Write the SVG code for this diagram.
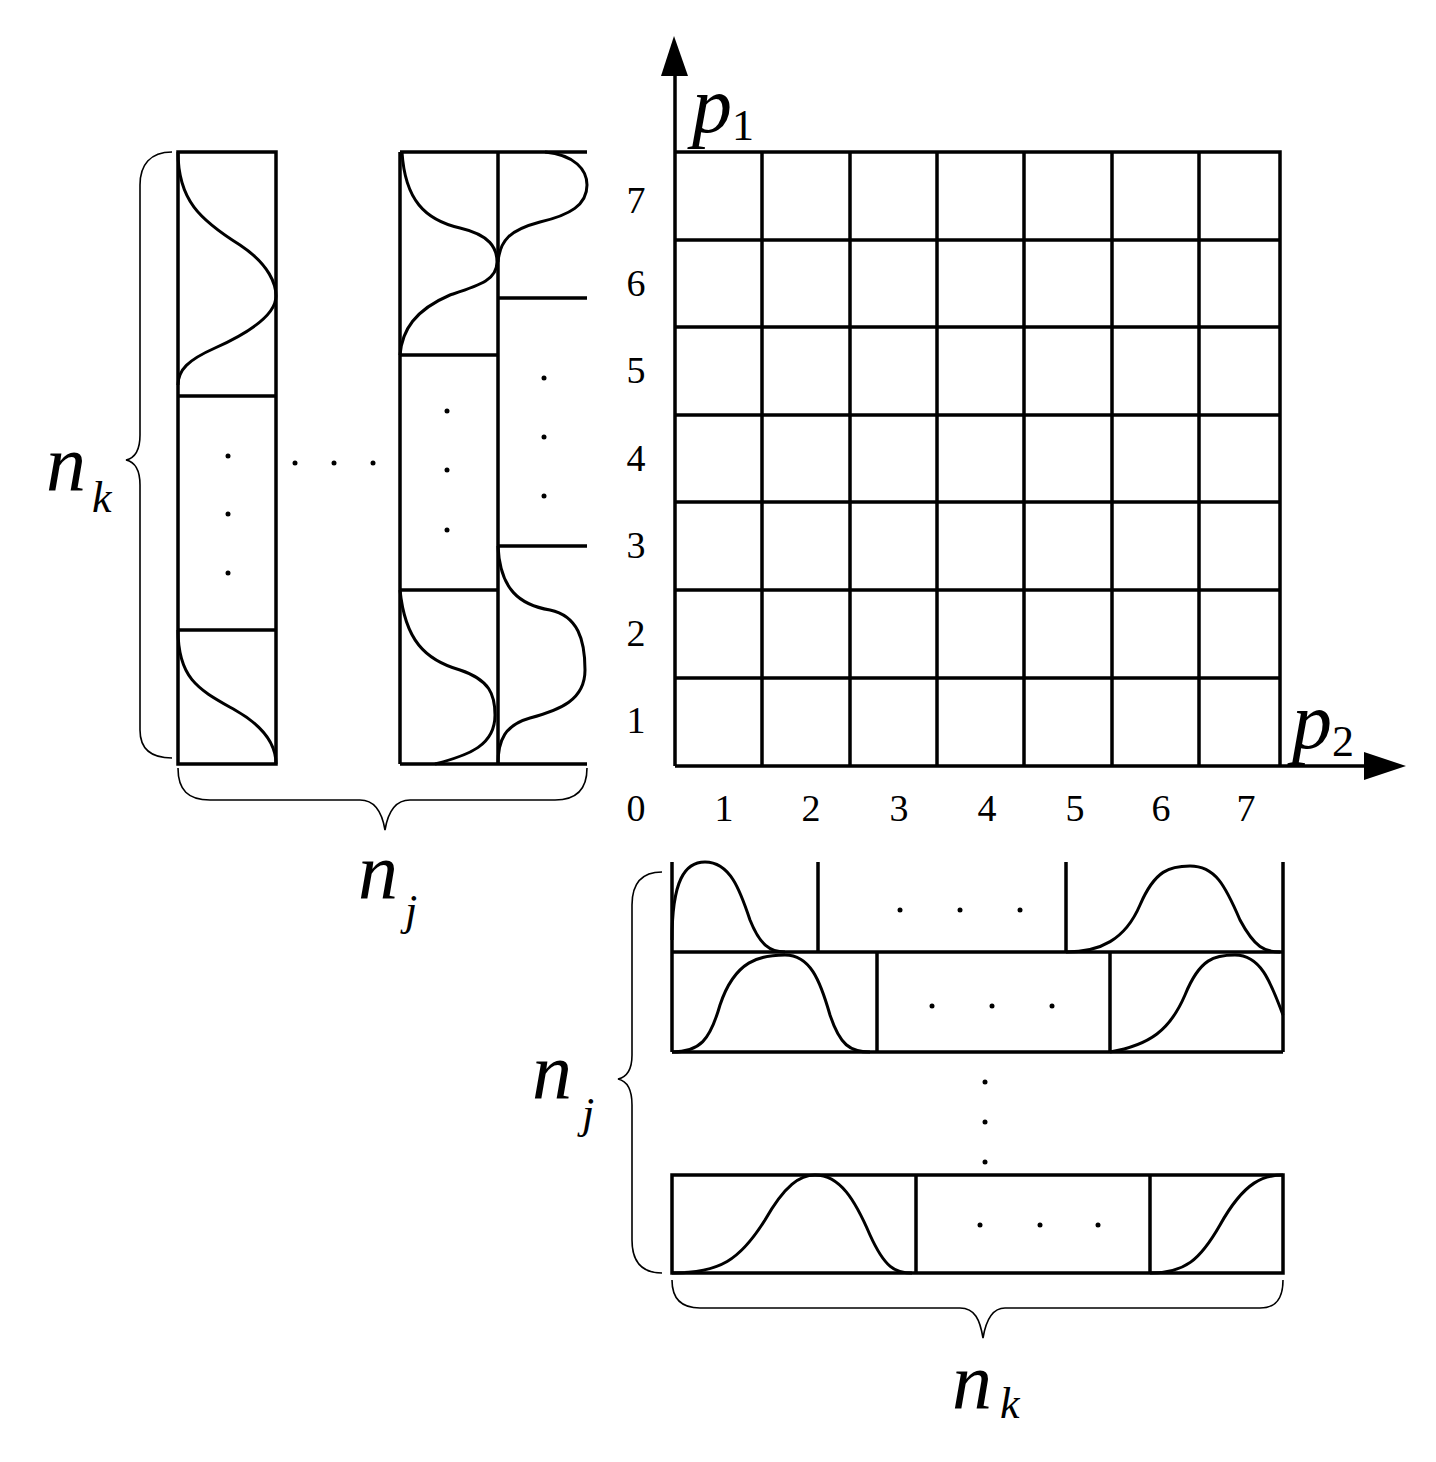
<svg xmlns="http://www.w3.org/2000/svg" width="1436" height="1462" viewBox="0 0 1436 1462">
<style>
.l{stroke:#000;stroke-width:3.5;fill:none}
.c{stroke:#000;stroke-width:3;fill:none}
.b{stroke:#000;stroke-width:1.6;fill:none}
.d{fill:#000}
.n{font-family:"Liberation Serif",serif;font-size:38px}
.v{font-family:"Liberation Serif",serif;font-style:italic;font-size:80px}
.s{font-family:"Liberation Serif",serif;font-style:italic;font-size:44px}
.s2{font-family:"Liberation Serif",serif;font-size:44px}
</style>
<rect width="1436" height="1462" fill="#fff"/>
<g id="col1">
<rect class="l" x="178" y="152" width="98" height="612"/>
<path class="l" d="M178,396H276M178,630H276"/>
<path class="c" d="M178,152C178,200 200,220 240,245C270,265 276,285 276,296C276,312 255,330 215,348C188,360 178,370 178,385"/>
<path class="c" d="M178,630C178,680 200,690 235,710C265,727 276,745 276,764"/>
<circle class="d" cx="228" cy="456" r="2.5"/><circle class="d" cx="228" cy="514" r="2.5"/><circle class="d" cx="228" cy="573" r="2.5"/>
</g>
<g id="hdots"><circle class="d" cx="295" cy="463" r="2.5"/><circle class="d" cx="334" cy="463" r="2.5"/><circle class="d" cx="373" cy="463" r="2.5"/></g>
<g id="col2">
<path class="l" d="M400,152H587M400,764H587M400,152V764M498,152V764M400,355H498M400,590H498M498,298H587M498,546H587"/>
<path class="c" d="M402,152C405,200 425,220 460,228C490,235 497,248 497,262C497,280 480,285 450,295C415,310 402,330 400,355"/>
<path class="c" d="M400,590C405,640 425,660 460,670C490,680 495,695 495,715C495,745 470,755 435,764"/>
<path class="c" d="M545,152C575,155 587,170 587,185C587,205 570,215 540,222C510,230 500,240 498,262"/>
<path class="c" d="M498,546C500,590 520,605 550,610C578,616 585,640 585,670C585,700 560,710 530,718C505,725 498,740 498,764"/>
<circle class="d" cx="447" cy="411" r="2.5"/><circle class="d" cx="447" cy="470" r="2.5"/><circle class="d" cx="447" cy="530" r="2.5"/>
<circle class="d" cx="544" cy="378" r="2.5"/><circle class="d" cx="544" cy="437" r="2.5"/><circle class="d" cx="544" cy="496" r="2.5"/>
</g>
<g id="grid">
<path class="l" d="M675,152H1280V766M762,152V766M850,152V766M937,152V766M1024,152V766M1112,152V766M1199,152V766M675,240H1280M675,327H1280M675,415H1280M675,502H1280M675,590H1280M675,678H1280"/>
</g>
<g id="axes">
<path class="l" d="M675,766V70M675,766H1370"/>
<path class="d" d="M674,36L661,76H688Z"/>
<path class="d" d="M1406,766L1364,752V780Z"/>
<text class="v" x="692" y="132">p</text><text class="s2" x="732" y="140">1</text>
<text class="v" x="1292" y="748">p</text><text class="s2" x="1332" y="756">2</text>
</g>
<g id="ticks" class="n" text-anchor="middle">
<text x="636" y="213">7</text><text x="636" y="296">6</text><text x="636" y="383">5</text><text x="636" y="471">4</text><text x="636" y="558">3</text><text x="636" y="646">2</text><text x="636" y="733">1</text><text x="636" y="821">0</text>
<text x="724" y="821">1</text><text x="811" y="821">2</text><text x="899" y="821">3</text><text x="987" y="821">4</text><text x="1075" y="821">5</text><text x="1161" y="821">6</text><text x="1246" y="821">7</text>
</g>
<g id="bottom">
<path class="l" d="M672,862V1052M818,862V952M1066,862V952M1283,862V1052M672,952H1283M672,1052H1283M877,952V1052M1110,952V1052"/>
<rect class="l" x="672" y="1175" width="611" height="98"/>
<path class="l" d="M916,1175V1273M1150,1175V1273"/>
<path class="c" d="M672,940C672,880 685,862 705,862C730,862 740,890 750,920C760,945 770,952 785,952"/>
<path class="c" d="M1066,952C1100,952 1125,940 1140,905C1155,870 1170,866 1190,866C1215,866 1225,885 1240,920C1255,948 1265,952 1280,952"/>
<path class="c" d="M672,1052C700,1052 710,1040 720,1005C735,960 760,955 785,955C810,955 820,980 830,1015C840,1045 850,1052 870,1052"/>
<path class="c" d="M1110,1052C1150,1045 1170,1030 1185,995C1200,958 1215,955 1235,955C1260,955 1270,980 1283,1015"/>
<path class="c" d="M672,1273C720,1273 740,1260 765,1220C785,1185 800,1175 815,1175C840,1175 855,1200 870,1235C885,1268 895,1273 912,1273"/>
<path class="c" d="M1150,1273C1185,1273 1200,1260 1220,1225C1245,1180 1265,1175 1283,1175"/>
<circle class="d" cx="900" cy="910" r="2.5"/><circle class="d" cx="960" cy="910" r="2.5"/><circle class="d" cx="1020" cy="910" r="2.5"/>
<circle class="d" cx="932" cy="1006" r="2.5"/><circle class="d" cx="992" cy="1006" r="2.5"/><circle class="d" cx="1052" cy="1006" r="2.5"/>
<circle class="d" cx="985" cy="1082" r="2.5"/><circle class="d" cx="985" cy="1122" r="2.5"/><circle class="d" cx="985" cy="1162" r="2.5"/>
<circle class="d" cx="980" cy="1225" r="2.5"/><circle class="d" cx="1040" cy="1225" r="2.5"/><circle class="d" cx="1098" cy="1225" r="2.5"/>
</g>
<g id="braces">
<path class="b" d="M172,152C150,152 140,165 140,185V435C140,450 135,458 126,460C135,462 140,470 140,485V730C140,748 150,758 172,758"/>
<path class="b" d="M178,768C178,790 188,800 210,800H360C375,800 382,812 385,830C388,812 395,800 410,800H555C575,800 587,790 587,768"/>
<path class="b" d="M662,872C640,872 632,885 632,905V1055C632,1070 627,1077 618,1079C627,1081 632,1090 632,1105V1240C632,1260 640,1273 662,1273"/>
<path class="b" d="M672,1280C672,1300 682,1308 700,1308H960C975,1308 980,1320 983,1338C986,1320 992,1308 1005,1308H1260C1275,1308 1283,1300 1283,1280"/>
</g>
<g id="labels">
<text class="v" x="46" y="490">n</text><text class="s" x="92" y="512">k</text>
<text class="v" x="358" y="898">n</text><text class="s" x="405" y="925">j</text>
<text class="v" x="532" y="1098">n</text><text class="s" x="582" y="1128">j</text>
<text class="v" x="952" y="1408">n</text><text class="s" x="1000" y="1418">k</text>
</g>
</svg>
